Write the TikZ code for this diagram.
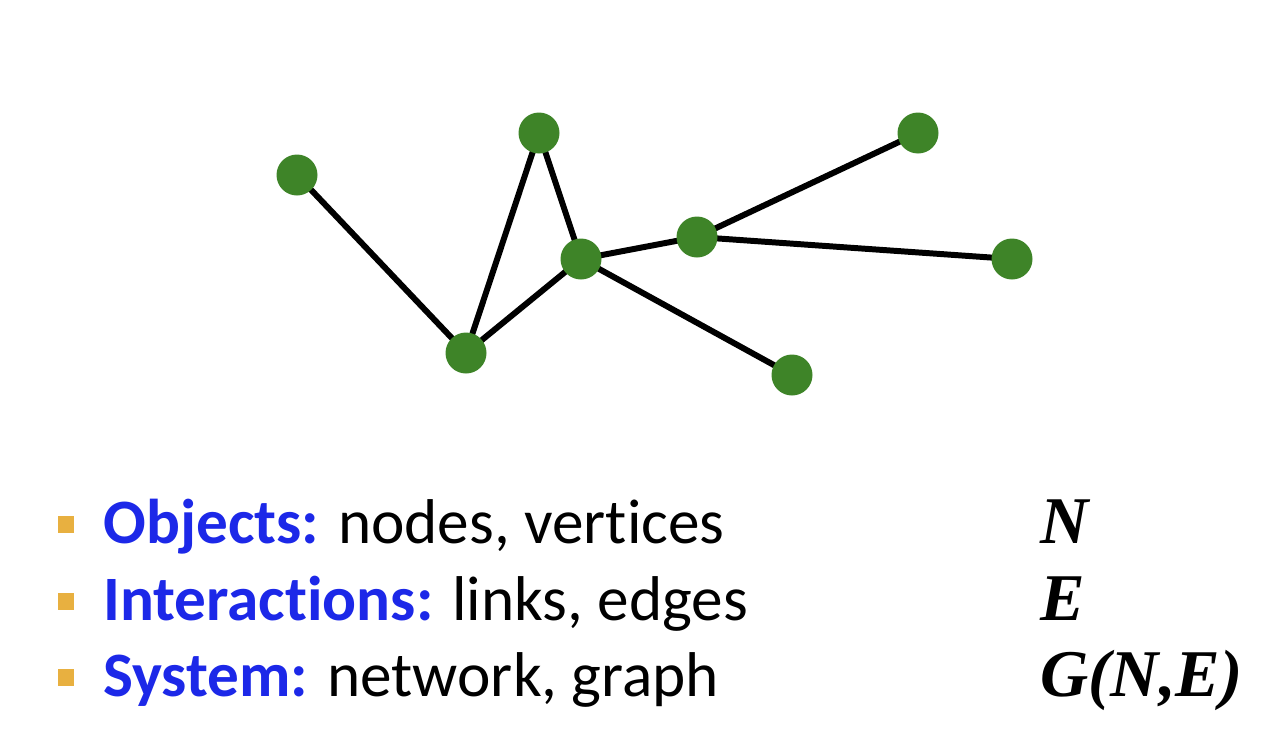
\documentclass[tikz,border=0pt]{standalone}
\usepackage{fontspec}
\setmainfont[Ligatures=NoCommon]{Carlito}
\newfontfamily\mathserif{Liberation Serif}
\definecolor{nodegreen}{RGB}{62,132,40}
\definecolor{titleblue}{RGB}{28,40,232}
\definecolor{bulletorange}{RGB}{232,176,64}
\begin{document}
\begin{tikzpicture}[x=0.02cm,y=-0.02cm,
  vert/.style={circle,fill=nodegreen,inner sep=0pt,minimum size=0.82cm},
  link/.style={line width=3.4pt,black},
  bul/.style={fill=bulletorange,inner sep=0pt,minimum size=0.34cm},
  item/.style={anchor=base west,inner sep=0pt,font=\fontsize{36}{40}\selectfont},
  sym/.style={anchor=base west,inner sep=0pt,font=\mathserif\bfseries\itshape\fontsize{38}{40}\selectfont}]
\useasboundingbox (0,0) rectangle (1283,751);
\coordinate (a) at (297,175);
\coordinate (b) at (539,133);
\coordinate (c) at (581,259);
\coordinate (d) at (466,353);
\coordinate (e) at (697,237);
\coordinate (f) at (918,133);
\coordinate (g) at (1012,259);
\coordinate (h) at (792,375);
\draw[link] (a) -- (d);
\draw[link] (d) -- (b);
\draw[link] (b) -- (c);
\draw[link] (d) -- (c);
\draw[link] (c) -- (e);
\draw[link] (e) -- (f);
\draw[link] (e) -- (g);
\draw[link] (c) -- (h);
\node[vert] (na) at (a) {};
\node[vert] (nb) at (b) {};
\node[vert] (nc) at (c) {};
\node[vert] (nd) at (d) {};
\node[vert] (ne) at (e) {};
\node[vert] (nf) at (f) {};
\node[vert] (ng) at (g) {};
\node[vert] (nh) at (h) {};
\node[bul] (b1) at (66,524) {};
\node[bul] (b2) at (66,601) {};
\node[bul] (b3) at (66,677) {};
\node[item] (t1) at (103,543) {\textcolor{titleblue}{\textbf{Objects:}} nodes, vertices};
\node[item] (t2) at (103,620) {\textcolor{titleblue}{\textbf{Interactions:}} links, edges};
\node[item] (t3) at (103,696) {\textcolor{titleblue}{\textbf{System:}} network, graph};
\node[sym] (s1) at (1040,543) {N};
\node[sym] (s2) at (1040,620) {E};
\node[sym] (s3) at (1040,696) {G(N,E)};
\end{tikzpicture}
\end{document}
